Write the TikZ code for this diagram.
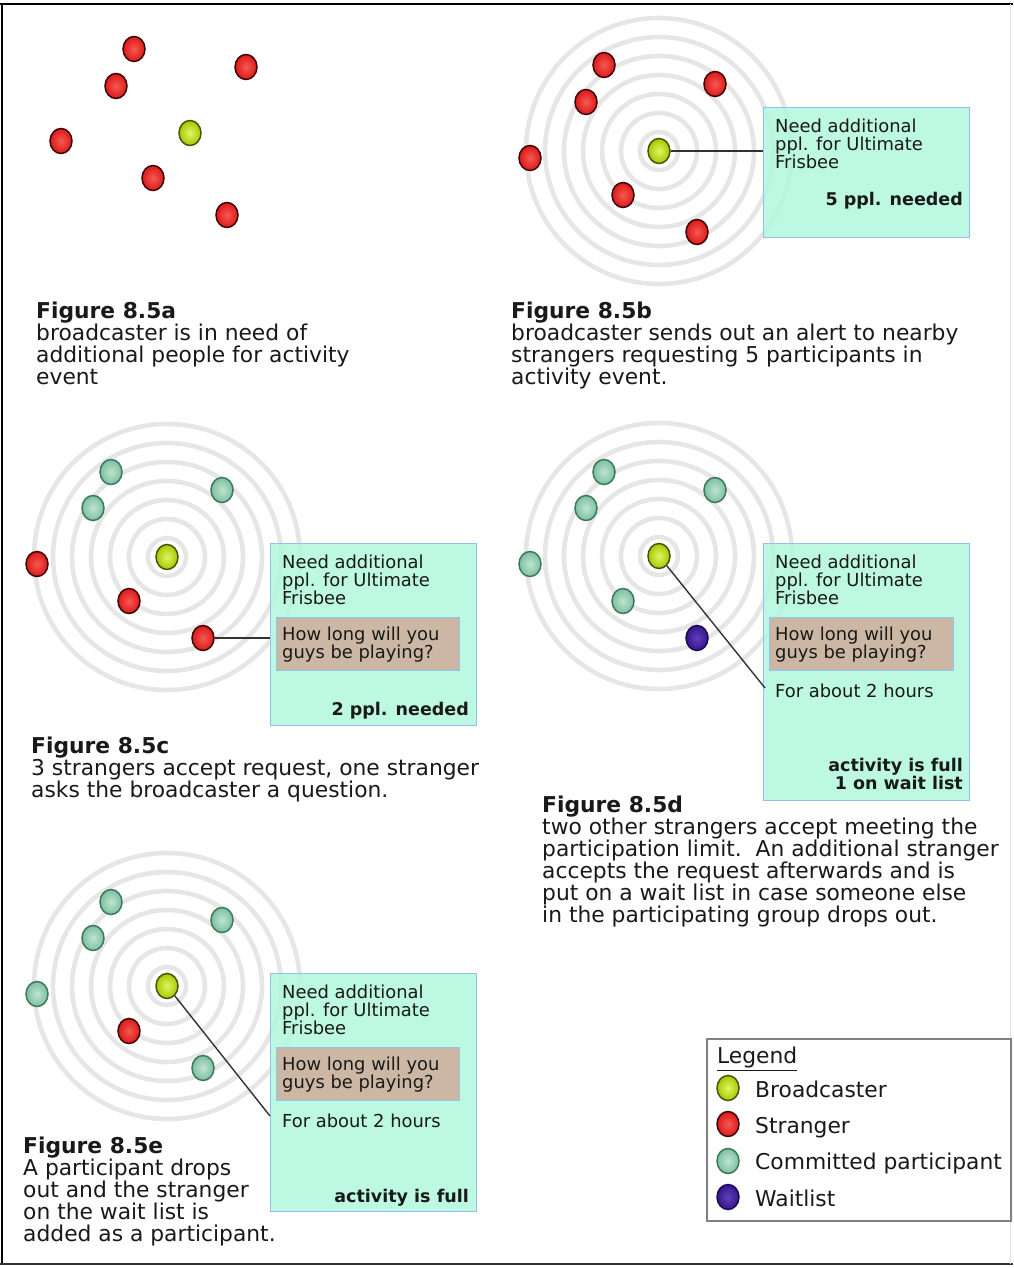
\documentclass[tikz,border=0pt]{standalone}
\usepackage{fontspec}
\setmainfont{DejaVu Sans}
\usetikzlibrary{shapes.geometric}

\begin{document}
\begin{tikzpicture}[x=1pt,y=-1pt,
    ring/.style={draw=ringgray, line width=4.6pt},
    person/.style={ellipse, minimum width=22pt, minimum height=25pt, inner sep=0pt, line width=1.5pt},
    bcdot/.style={person, draw=bcdark, inner color=bclight, outer color=bcbase},
    sgdot/.style={person, draw=sgdark, inner color=sglight, outer color=sgbase},
    cpdot/.style={person, draw=cpdark, inner color=cplight, outer color=cpbase},
    wldot/.style={person, draw=wldark, inner color=wllight, outer color=wlbase},
    infobox/.style={rectangle, anchor=north west, inner sep=0pt, draw=boxedge, fill=boxfill, fill opacity=0.85, line width=1.3pt},
    askbox/.style={rectangle, anchor=north west, inner sep=0pt, draw=askedge, fill=askfill, line width=1.3pt},
    boxtext/.style={anchor=north west, inner sep=0pt, align=left, text=ink, font=\fontsize{17.9}{18}\selectfont},
    boxbold/.style={anchor=north east, inner sep=0pt, align=right, text=ink, font=\fontsize{17.5}{18}\selectfont\bfseries},
    figtext/.style={anchor=north west, inner sep=0pt, align=left, text=ink, font=\fontsize{21.8}{22}\selectfont},
    link/.style={draw=linkgray, line width=1.4pt}]

    % colours
    \definecolor{ringgray}{RGB}{230,230,230}
    \definecolor{ink}{RGB}{25,25,25}
    \definecolor{linkgray}{RGB}{50,50,50}
    \definecolor{boxfill}{RGB}{178,247,222}
    \definecolor{boxedge}{RGB}{150,190,240}
    \definecolor{askfill}{RGB}{203,183,163}
    \definecolor{askedge}{RGB}{140,200,235}
    \definecolor{bcbase}{RGB}{165,200,0}
    \definecolor{bclight}{RGB}{225,245,100}
    \definecolor{bcdark}{RGB}{70,85,5}
    \definecolor{sgbase}{RGB}{220,25,25}
    \definecolor{sglight}{RGB}{245,90,80}
    \definecolor{sgdark}{RGB}{60,5,5}
    \definecolor{cpbase}{RGB}{125,192,160}
    \definecolor{cplight}{RGB}{190,228,208}
    \definecolor{cpdark}{RGB}{60,120,90}
    \definecolor{wlbase}{RGB}{55,20,140}
    \definecolor{wllight}{RGB}{95,65,185}
    \definecolor{wldark}{RGB}{30,10,80}

    \useasboundingbox (0,0) rectangle (1013,1268);

    % frame
    \draw[black, line width=2.5pt] (0,4) -- (1013,4);
    \draw[black, line width=2pt] (2,4) -- (2,1265);
    \draw[black!80, line width=2pt] (0,1264) -- (1013,1264);
    \draw[black!12] (1010,4) -- (1010,1264);

    % broadcast rings
    \foreach \cx/\cy in {659/151,167/557,659/556,167/986}
        \foreach \r in {19,38,...,133}
            \draw[ring] (\cx,\cy) circle (\r);

    % info boxes
    \node[infobox, minimum width=206pt, minimum height=130pt] (bbox) at (763,107) {};
    \node[infobox, minimum width=206pt, minimum height=182pt] (cbox) at (270,543) {};
    \node[infobox, minimum width=206pt, minimum height=257pt] (dbox) at (763,543) {};
    \node[infobox, minimum width=206pt, minimum height=238pt] (ebox) at (270,973) {};
    \node[askbox, minimum width=183pt, minimum height=53pt] (cask) at (276,617) {};
    \node[askbox, minimum width=184pt, minimum height=53pt] (dask) at (769,617) {};
    \node[askbox, minimum width=183pt, minimum height=53pt] (eask) at (276,1047) {};

    % box texts
    \node[boxtext] (bneed) at (775,118.5) {Need additional\\ppl. for Ultimate\\Frisbee};
    \node[boxbold] (bleft) at (963,191.7) {5 ppl. needed};
    \node[boxtext] (cneed) at (282,554.5) {Need additional\\ppl. for Ultimate\\Frisbee};
    \node[boxtext] (cq) at (282,626.5) {How long will you\\guys be playing?};
    \node[boxbold] (cleft) at (469,701.7) {2 ppl. needed};
    \node[boxtext] (dneed) at (775,554.5) {Need additional\\ppl. for Ultimate\\Frisbee};
    \node[boxtext] (dq) at (775,626.5) {How long will you\\guys be playing?};
    \node[boxtext] (da) at (775,683.5) {For about 2 hours};
    \node[boxbold] (dleft) at (963,757.7) {activity is full\\1 on wait list};
    \node[boxtext] (eneed) at (282,984.5) {Need additional\\ppl. for Ultimate\\Frisbee};
    \node[boxtext] (eq) at (282,1056.5) {How long will you\\guys be playing?};
    \node[boxtext] (ea) at (282,1113.5) {For about 2 hours};
    \node[boxbold] (eleft) at (469,1188.7) {activity is full};

    % figure 8.5a
    \node[bcdot] (aB) at (190,133) {};
    \foreach \x/\y [count=\i] in {134/49,246/67,116/86,61/141,153/178,227/215}
        \node[sgdot] (a\i) at (\x,\y) {};

    % figure 8.5b
    \node[bcdot] (bB) at (659,151) {};
    \foreach \x/\y [count=\i] in {604/65,715/84,586/102,530/158,623/195,697/232}
        \node[sgdot] (b\i) at (\x,\y) {};
    \draw[link] (bB) -- (bB -| bbox.west);

    % figure 8.5c
    \node[bcdot] (cB) at (167,557) {};
    \foreach \x/\y [count=\i] in {111/472,222/490,93/508}
        \node[cpdot] (c\i) at (\x,\y) {};
    \foreach \x/\y [count=\i from 4] in {37/564,129/601,203/638}
        \node[sgdot] (c\i) at (\x,\y) {};
    \draw[link] (c6) -- (c6 -| cbox.west);

    % figure 8.5d
    \node[bcdot] (dB) at (659,556) {};
    \foreach \x/\y [count=\i] in {604/472,715/490,586/508,530/564,623/601}
        \node[cpdot] (d\i) at (\x,\y) {};
    \node[wldot] (d6) at (697,638) {};
    \coordinate (dend) at (765,688);
    \draw[link] (dB) -- (dend);

    % figure 8.5e
    \node[bcdot] (eB) at (167,986) {};
    \foreach \x/\y [count=\i] in {111/902,222/920,93/938,37/994,203/1068}
        \node[cpdot] (e\i) at (\x,\y) {};
    \node[sgdot] (e6) at (129,1031) {};
    \coordinate (eend) at (270,1116);
    \draw[link] (eB) -- (eend);

    % captions
    \node[figtext] (acap) at (36,301.5) {\textbf{Figure 8.5a}\\broadcaster is in need of\\additional people for activity\\event};
    \node[figtext] (bcap) at (511,301.5) {\textbf{Figure 8.5b}\\broadcaster sends out an alert to nearby\\strangers requesting 5 participants in\\activity event.};
    \node[figtext] (ccap) at (31,736.5) {\textbf{Figure 8.5c}\\3 strangers accept request, one stranger\\asks the broadcaster a question.};
    \node[figtext] (dcap) at (542,795.5) {\textbf{Figure 8.5d}\\two other strangers accept meeting the\\participation limit.\ \ An additional stranger\\accepts the request afterwards and is\\put on a wait list in case someone else\\in the participating group drops out.};
    \node[figtext] (ecap) at (23,1136.5) {\textbf{Figure 8.5e}\\A participant drops\\out and the stranger\\on the wait list is\\added as a participant.};

    % legend
    \node[rectangle, anchor=north west, inner sep=0pt, draw=black!50, line width=1.5pt,
          minimum width=304pt, minimum height=182pt] (legend) at (706,1038) {};
    \node[figtext] (lgtitle) at (717,1047) {\underline{Legend}};
    \node[bcdot] (lg1) at (728,1088) {};
    \node[sgdot] (lg2) at (728,1124) {};
    \node[cpdot] (lg3) at (728,1161) {};
    \node[wldot] (lg4) at (728,1197) {};
    \node[figtext] (lgt1) at (755,1080.3) {Broadcaster};
    \node[figtext] (lgt2) at (755,1117.3) {Stranger};
    \node[figtext] (lgt3) at (755,1152.3) {Committed participant};
    \node[figtext] (lgt4) at (755,1189.3) {Waitlist};

\end{tikzpicture}
\end{document}
